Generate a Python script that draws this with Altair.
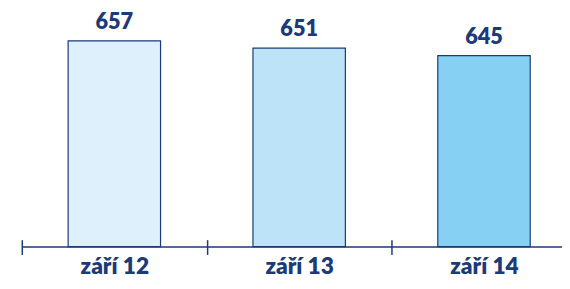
import altair as alt
import pandas as pd

categories = ["září 12", "září 13", "září 14"]
values = [657, 651, 645]
fills = ["#def0fc", "#bde3f8", "#86d0f4"]

df = pd.DataFrame({"cat": categories, "val": values, "fill": fills})

navy = "#1a3a78"
FONT = "Lato"
Y_MIN = 490
W = 548
STEP = 187.5
HALF_STEP = STEP / 2
PAD_IN = 0.5
PAD_OUT = (W / STEP - (3 - PAD_IN)) / 2
ALIGN = 47 / (W - STEP * (3 - PAD_IN))

x_scale = alt.Scale(paddingInner=PAD_IN, paddingOuter=PAD_OUT, align=ALIGN)
y_scale = alt.Scale(domain=[Y_MIN, 682])

base = alt.Chart(df)

bars = base.mark_bar(stroke=navy, strokeWidth=1.2).encode(
    x=alt.X("cat:N", sort=categories, scale=x_scale,
            axis=alt.Axis(title=None, labelAngle=0, orient="bottom",
                          domainColor=navy, domainWidth=1.5,
                          tickColor=navy, tickWidth=1.5, tickSize=8,
                          tickOffset=-HALF_STEP, labelOffset=HALF_STEP,
                          labelFont=FONT, labelFontWeight=800, labelFontSize=23,
                          labelColor=navy, labelPadding=1, grid=False)),
    y=alt.Y("val:Q", scale=y_scale, axis=None),
    y2=alt.datum(Y_MIN),
    fill=alt.Fill("fill:N", scale=None),
)

labels = base.mark_text(font=FONT, fontWeight=800, fontSize=22, color=navy,
                        baseline="bottom", dy=-7).encode(
    x=alt.X("cat:N", sort=categories, scale=x_scale,
            axis=alt.Axis(title=None, orient="bottom", offset=-7, domain=False,
                          labels=False, tickColor=navy, tickWidth=1.5, tickSize=7,
                          tickOffset=-HALF_STEP, grid=False)),
    y=alt.Y("val:Q", scale=y_scale, axis=None),
    text=alt.Text("val:Q"),
)

chart = alt.layer(bars, labels).resolve_axis(x="independent").properties(
    width=W, height=240,
    autosize=alt.AutoSizeParams(type="none"),
    padding={"left": 14, "top": 0, "right": 0, "bottom": 41},
).configure_view(stroke=None)

chart.save("out.html", embed_options={"renderer": "svg", "actions": False})
